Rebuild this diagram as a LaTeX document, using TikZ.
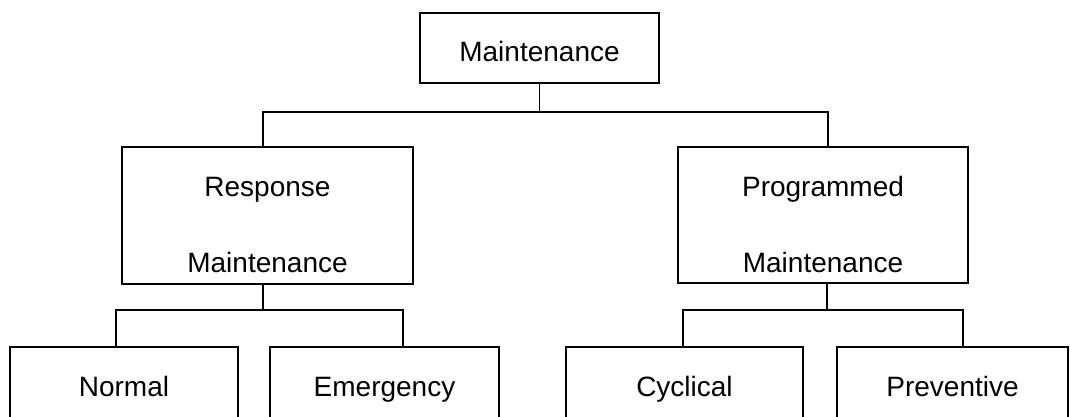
\documentclass[tikz,border=0pt]{standalone}
\usepackage{fontspec}
\setmainfont{Liberation Sans}
\begin{document}
\begin{tikzpicture}[x=1pt,y=-1pt,
  box/.style={draw,line width=1.5pt,inner sep=0pt,font=\fontsize{28}{33}\selectfont},
  conn/.style={line width=1.5pt}]
\useasboundingbox (0,0) rectangle (1070,417);
\clip (0,0) rectangle (1070,417);
\node[box,minimum width=239,minimum height=70,text height=28pt,text depth=0pt] (top) at (539.5,48) {Maintenance};
\tikzset{mid/.style={box,text height=0pt,text depth=0pt}}
\node[mid,minimum width=291,minimum height=137] (resp) at (267.5,215.5)
  {\smash{\raisebox{-19pt}{\begin{tabular}{@{}c@{}}Response\\[43pt]Maintenance\end{tabular}}}};
\node[mid,minimum width=290,minimum height=136] (prog) at (823,215)
  {\smash{\raisebox{-19pt}{\begin{tabular}{@{}c@{}}Programmed\\[43pt]Maintenance\end{tabular}}}};
\tikzset{low/.style={box,minimum height=78,text height=20pt,text depth=0pt}}
\node[low,minimum width=228] (nor) at (124,386) {Normal};
\node[low,minimum width=229] (eme) at (384.5,386) {Emergency};
\node[low,minimum width=237] (cyc) at (684.5,386) {Cyclical};
\node[low,minimum width=231] (pre) at (952.5,386) {Preventive};
\coordinate (b1L) at (263,112);
\coordinate (b1R) at (828,112);
\coordinate (rs) at (263,310);
\coordinate (b2L) at (116,310);
\coordinate (b2R) at (403,310);
\coordinate (ps) at (827,310);
\coordinate (b3L) at (683,310);
\coordinate (b3R) at (963,310);
\draw[conn] (top.south) -- (top.south |- b1L);
\draw[conn] (resp.north -| b1L) -- (b1L) -- (b1R) -- (prog.north -| b1R);
\draw[conn] (resp.south -| rs) -- (rs);
\draw[conn] (nor.north -| b2L) -- (b2L) -- (b2R) -- (eme.north -| b2R);
\draw[conn] (prog.south -| ps) -- (ps);
\draw[conn] (cyc.north -| b3L) -- (b3L) -- (b3R) -- (pre.north -| b3R);
\end{tikzpicture}
\end{document}
